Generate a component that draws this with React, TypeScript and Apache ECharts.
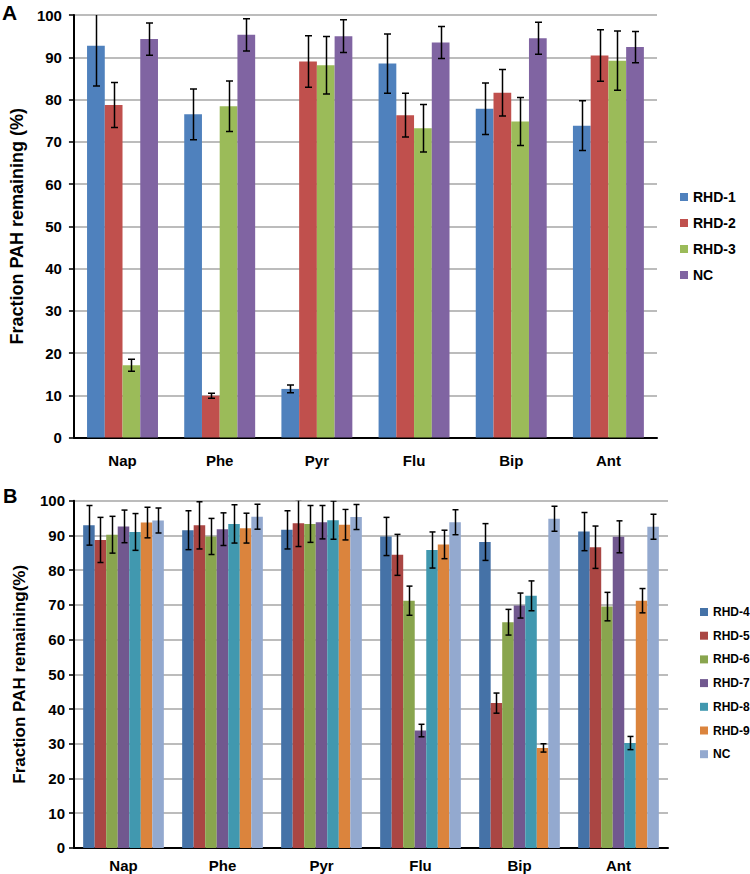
import React, { useEffect, useRef } from "react";
import * as echarts from "echarts";

// Categories (PAH compounds)
const categories = ["Nap", "Phe", "Pyr", "Flu", "Bip", "Ant"];

// Panel A series names
const seriesNamesA = ["RHD-1", "RHD-2", "RHD-3", "NC"];
// Panel A values and errors
const aRHD1 = [92.7, 76.5, 11.5, 88.5, 77.8, 73.8];
const aRHD1Err = [9.5, 6.0, 0.9, 7.0, 6.1, 5.9];
const aRHD2 = [78.7, 9.9, 89.0, 76.3, 81.6, 90.4];
const aRHD2Err = [5.3, 0.6, 6.1, 5.2, 5.5, 6.1];
const aRHD3 = [17.1, 78.4, 88.1, 73.2, 74.8, 89.2];
const aRHD3Err = [1.4, 6.0, 6.8, 5.6, 5.7, 7.0];
const aNC = [94.3, 95.3, 95.0, 93.5, 94.5, 92.4];
const aNCErr = [3.8, 3.8, 3.9, 3.8, 3.8, 3.7];

// Panel B series names
const seriesNamesB = ["RHD-4", "RHD-5", "RHD-6", "RHD-7", "RHD-8", "RHD-9", "NC"];
// Panel B values and errors
const bRHD4 = [92.9, 91.5, 91.6, 89.7, 88.1, 91.1];
const bRHD4Err = [5.7, 5.6, 5.5, 5.5, 5.3, 5.5];
const bRHD5 = [88.7, 92.9, 93.5, 84.4, 41.7, 86.6];
const bRHD5Err = [6.5, 6.8, 6.7, 5.9, 2.9, 6.1];
const bRHD6 = [90.2, 89.7, 93.3, 71.2, 65.0, 69.5];
const bRHD6Err = [5.3, 5.2, 5.3, 4.2, 3.7, 4.1];
const bRHD7 = [92.6, 91.8, 93.8, 33.8, 69.8, 89.6];
const bRHD7Err = [4.7, 4.7, 4.8, 1.8, 3.6, 4.6];
const bRHD8 = [91.0, 93.3, 94.4, 85.8, 72.6, 30.2];
const bRHD8Err = [5.3, 5.5, 5.5, 5.2, 4.3, 1.9];
const bRHD9 = [93.7, 92.1, 93.1, 87.4, 28.8, 71.2];
const bRHD9Err = [4.4, 4.3, 4.4, 4.1, 1.2, 3.5];
const bNC = [94.3, 95.4, 95.3, 93.8, 94.8, 92.5];
const bNCErr = [3.6, 3.6, 3.6, 3.6, 3.6, 3.6];

// Y-axis ticks
const yMin = 0;
const yMax = 100;
const yStep = 10;

const colorsA = ["#4F81BD", "#C0504D", "#9BBB59", "#8064A2"];
const colorsB = ["#4572A7", "#AA4643", "#89A54E", "#71588F", "#4198AF", "#DB843D", "#93A9CF"];

const FONT = "'Liberation Sans', Arial, sans-serif";

function errSeries(
  vals: number[],
  errs: number[],
  idx: number,
  n: number,
  gridIdx: number,
  gapFrac: number,
  capW: number
) {
  return {
    type: "custom",
    xAxisIndex: gridIdx,
    yAxisIndex: gridIdx,
    silent: true,
    clip: true,
    z: 10,
    data: vals.map((v, i) => [i, v - errs[i], v + errs[i]]),
    renderItem: (_params: any, api: any) => {
      const ci = api.value(0);
      const catW = api.size([1, 0])[0];
      const bw = (catW * (1 - gapFrac)) / n;
      const c = api.coord([ci, 0]);
      const x = Math.round(c[0] + (idx - (n - 1) / 2) * bw) + 0.5;
      const lo = api.coord([ci, api.value(1)])[1];
      const hi = api.coord([ci, api.value(2)])[1];
      const style = { stroke: "#000", lineWidth: 1.5 };
      return {
        type: "group",
        children: [
          { type: "line", shape: { x1: x, y1: lo, x2: x, y2: hi }, style },
          { type: "line", shape: { x1: x - capW / 2, y1: hi, x2: x + capW / 2, y2: hi }, style },
          { type: "line", shape: { x1: x - capW / 2, y1: lo, x2: x + capW / 2, y2: lo }, style },
        ],
      };
    },
  };
}

export default function App() {
  const ref = useRef<HTMLDivElement>(null);
  useEffect(() => {
    if (!ref.current) return;
    const chart = echarts.init(ref.current, null, { renderer: "svg" });

    const gapA = 0.27;
    const gapB = 0.185;
    const valsA = [aRHD1, aRHD2, aRHD3, aNC];
    const errsA = [aRHD1Err, aRHD2Err, aRHD3Err, aNCErr];
    const valsB = [bRHD4, bRHD5, bRHD6, bRHD7, bRHD8, bRHD9, bNC];
    const errsB = [bRHD4Err, bRHD5Err, bRHD6Err, bRHD7Err, bRHD8Err, bRHD9Err, bNCErr];

    const xAxisCommon = {
      type: "category",
      data: categories,
      axisTick: { show: false },
      axisLine: { lineStyle: { color: "#000", width: 2 } },
      axisLabel: { color: "#000", fontFamily: FONT, fontWeight: "bold", fontSize: 15 },
    };
    const yAxisCommon = {
      type: "value",
      min: yMin,
      max: yMax,
      interval: yStep,
      nameLocation: "middle",
      nameRotate: 90,
      axisLine: { show: true, lineStyle: { color: "#000", width: 2 } },
      axisTick: { show: true, length: 5, lineStyle: { color: "#000", width: 1.5 } },
      splitLine: { lineStyle: { color: "#A6A6A6", width: 1.5 } },
    };

    const series: any[] = [];
    seriesNamesA.forEach((name, i) => {
      series.push({
        type: "bar",
        name,
        xAxisIndex: 0,
        yAxisIndex: 0,
        data: valsA[i],
        itemStyle: { color: colorsA[i] },
        barGap: "0%",
        barCategoryGap: gapA * 100 + "%",
      });
    });
    seriesNamesA.forEach((_n, i) => {
      series.push(errSeries(valsA[i], errsA[i], i, 4, 0, gapA, 7));
    });
    seriesNamesB.forEach((name, i) => {
      series.push({
        type: "bar",
        name: name,
        id: "B-" + name,
        xAxisIndex: 1,
        yAxisIndex: 1,
        data: valsB[i],
        itemStyle: { color: colorsB[i] },
        barGap: "0%",
        barCategoryGap: gapB * 100 + "%",
      });
    });
    seriesNamesB.forEach((_n, i) => {
      series.push(errSeries(valsB[i], errsB[i], i, 7, 1, gapB, 6));
    });

    const legendTextA = {
      color: "#000",
      fontFamily: FONT,
      fontWeight: "bold",
      fontSize: 14,
      lineHeight: 16,
      overflow: "none",
    };
    const legendTextB = {
      color: "#000",
      fontFamily: FONT,
      fontWeight: "bold",
      fontSize: 12,
      lineHeight: 16,
      overflow: "none",
    };

    chart.setOption({
      animation: false,
      backgroundColor: "#fff",
      grid: [
        { left: 69.5, top: 15, width: 587.5, height: 422.5 },
        { left: 74, top: 500.7, width: 594, height: 347.2 },
      ],
      xAxis: [
        { ...xAxisCommon, gridIndex: 0, axisLabel: { ...xAxisCommon.axisLabel, margin: 15 } },
        { ...xAxisCommon, gridIndex: 1, axisLabel: { ...xAxisCommon.axisLabel, margin: 10 } },
      ],
      yAxis: [
        {
          ...yAxisCommon,
          gridIndex: 0,
          name: "Fraction PAH remaining (%)",
          nameGap: 47,
          nameTextStyle: { color: "#000", fontFamily: FONT, fontWeight: "bold", fontSize: 18 },
          axisLabel: { color: "#000", fontFamily: FONT, fontWeight: "bold", fontSize: 15, margin: 12 },
        },
        {
          ...yAxisCommon,
          gridIndex: 1,
          name: "Fraction PAH remaining(%)",
          nameGap: 46,
          nameTextStyle: { color: "#000", fontFamily: FONT, fontWeight: "bold", fontSize: 17 },
          axisLabel: { color: "#000", fontFamily: FONT, fontWeight: "bold", fontSize: 15, margin: 9 },
        },
      ],
      legend: [
        {
          data: seriesNamesA.map((n, i) => ({ name: n, itemStyle: { color: colorsA[i] } })),
          orient: "vertical",
          left: 680,
          top: 189,
          icon: "rect",
          itemWidth: 8,
          itemHeight: 8,
          itemGap: 10,
          padding: 0,
          textStyle: legendTextA,
          selectedMode: false,
        },
        {
          data: seriesNamesB.map((n, i) => ({ name: n, itemStyle: { color: colorsB[i] } })),
          orient: "vertical",
          left: 700,
          top: 604,
          icon: "rect",
          itemWidth: 8,
          itemHeight: 8,
          itemGap: 7.7,
          itemTextGap: 3,
          padding: 0,
          textStyle: legendTextB,
          selectedMode: false,
        },
      ],
      graphic: [
        {
          type: "text",
          left: 2,
          top: 2,
          style: { text: "A", fontFamily: FONT, fontWeight: "bold", fontSize: 21, fill: "#000" },
        },
        {
          type: "text",
          left: 3,
          top: 486,
          style: { text: "B", fontFamily: FONT, fontWeight: "bold", fontSize: 20, fill: "#000" },
        },
      ],
      series,
    });
    return () => chart.dispose();
  }, []);
  return (
    <div
      ref={ref}
      style={{ position: "absolute", left: 0, top: 0, width: 750, height: 874, background: "#fff" }}
    />
  );
}
